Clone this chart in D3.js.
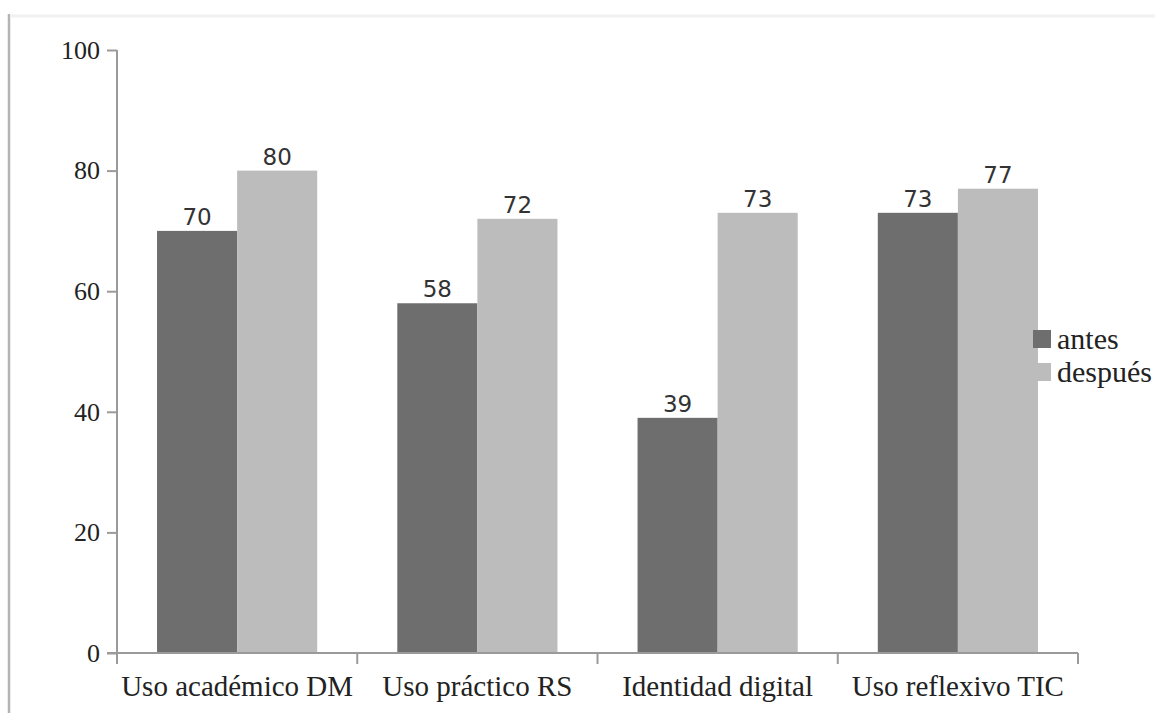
<!DOCTYPE html>
<html>
<head>
<meta charset="utf-8">
<script src="https://cdn.jsdelivr.net/npm/d3@7"></script>
<style>
  html, body { margin: 0; padding: 0; background: #fff; }
  svg { display: block; }
</style>
</head>
<body>
<svg id="chart" width="1155" height="713"></svg>
<script>
// Competency categories and the two measurement moments
const categories = ["Uso académico DM", "Uso práctico RS", "Identidad digital", "Uso reflexivo TIC"];
const seriesNames = ["antes", "después"];
const antes = [70, 58, 39, 73];
const despues = [80, 72, 73, 77];
const yTicks = [0, 20, 40, 60, 80, 100];

const colors = { "antes": "#6e6e6e", "después": "#bcbcbc" };
const axisColor = "#9a9a9a";
const serif = "Liberation Serif";

const svg = d3.select("#chart");

// Outer frame of the figure
svg.append("line").attr("x1", 9).attr("x2", 9).attr("y1", 14).attr("y2", 713)
  .attr("stroke", "#b4b4b4").attr("stroke-width", 2.5);
svg.append("line").attr("x1", 10).attr("x2", 1155).attr("y1", 16).attr("y2", 16)
  .attr("stroke", "#f1f1f1").attr("stroke-width", 3);

const plot = { left: 117, right: 1078, top: 50, bottom: 653 };

const x0 = d3.scaleBand().domain(categories).range([plot.left, plot.right]).paddingInner(0).paddingOuter(0);
const x1 = d3.scaleBand().domain(seriesNames).range([0, x0.bandwidth()]).paddingInner(0).paddingOuter(0.5);
const y = d3.scaleLinear().domain([0, 100]).range([plot.bottom, plot.top]);

const rows = categories.map((c, i) => ({ cat: c, values: [
  { key: "antes", value: antes[i] },
  { key: "después", value: despues[i] }
]}));

// Bars
const groups = svg.append("g").selectAll("g").data(rows).join("g")
  .attr("transform", d => `translate(${x0(d.cat)},0)`);

groups.selectAll("rect").data(d => d.values).join("rect")
  .attr("x", d => x1(d.key))
  .attr("y", d => y(d.value))
  .attr("width", x1.bandwidth())
  .attr("height", d => y(0) - y(d.value))
  .attr("fill", d => colors[d.key]);

// Value labels above bars
groups.selectAll("text.val").data(d => d.values).join("text")
  .attr("class", "val")
  .attr("x", d => x1(d.key) + x1.bandwidth() / 2)
  .attr("y", d => y(d.value) - 6)
  .attr("text-anchor", "middle")
  .attr("font-family", "DejaVu Sans")
  .attr("font-size", 23)
  .attr("fill", "#333")
  .text(d => d.value);

// Y axis
const yAxis = d3.axisLeft(y).tickValues(yTicks).tickSize(10).tickPadding(7).tickFormat(d3.format("d"));
const gy = svg.append("g").attr("transform", `translate(${plot.left},0)`).call(yAxis)
  .attr("font-family", serif);
gy.select(".domain").attr("stroke", axisColor).attr("stroke-width", 2).attr("d", `M0,${plot.top}V${plot.bottom}`);
gy.selectAll(".tick line").attr("stroke", axisColor).attr("stroke-width", 2);
gy.selectAll(".tick text")
  .attr("font-family", serif)
  .attr("font-size", 26)
  .attr("fill", "#222");

// X axis with ticks at category boundaries
const gx = svg.append("g").attr("transform", `translate(0,${plot.bottom})`);
gx.append("line").attr("x1", plot.left - 10).attr("x2", plot.right).attr("y1", 0).attr("y2", 0)
  .attr("stroke", axisColor).attr("stroke-width", 2);
const boundaries = categories.map(c => x0(c)).concat([x0(categories[categories.length - 1]) + x0.bandwidth()]);
gx.selectAll("line.tk").data(boundaries).join("line").attr("class", "tk")
  .attr("x1", d => d).attr("x2", d => d).attr("y1", 0).attr("y2", 11)
  .attr("stroke", axisColor).attr("stroke-width", 2);
gx.selectAll("text").data(categories).join("text")
  .attr("x", d => x0(d) + x0.bandwidth() / 2)
  .attr("y", 43)
  .attr("text-anchor", "middle")
  .attr("font-family", serif)
  .attr("font-size", 29)
  .attr("fill", "#222")
  .text(d => d);

// Legend
const legend = svg.append("g").attr("transform", "translate(1033,330)");
const li = legend.selectAll("g").data(seriesNames).join("g")
  .attr("transform", (d, i) => `translate(0,${i * 33})`);
li.append("rect").attr("width", 18).attr("height", 18).attr("fill", d => colors[d]);
li.append("text").attr("x", 24).attr("y", 19)
  .attr("font-family", serif)
  .attr("font-size", 30)
  .attr("fill", "#222")
  .text(d => d);
</script>
</body>
</html>
